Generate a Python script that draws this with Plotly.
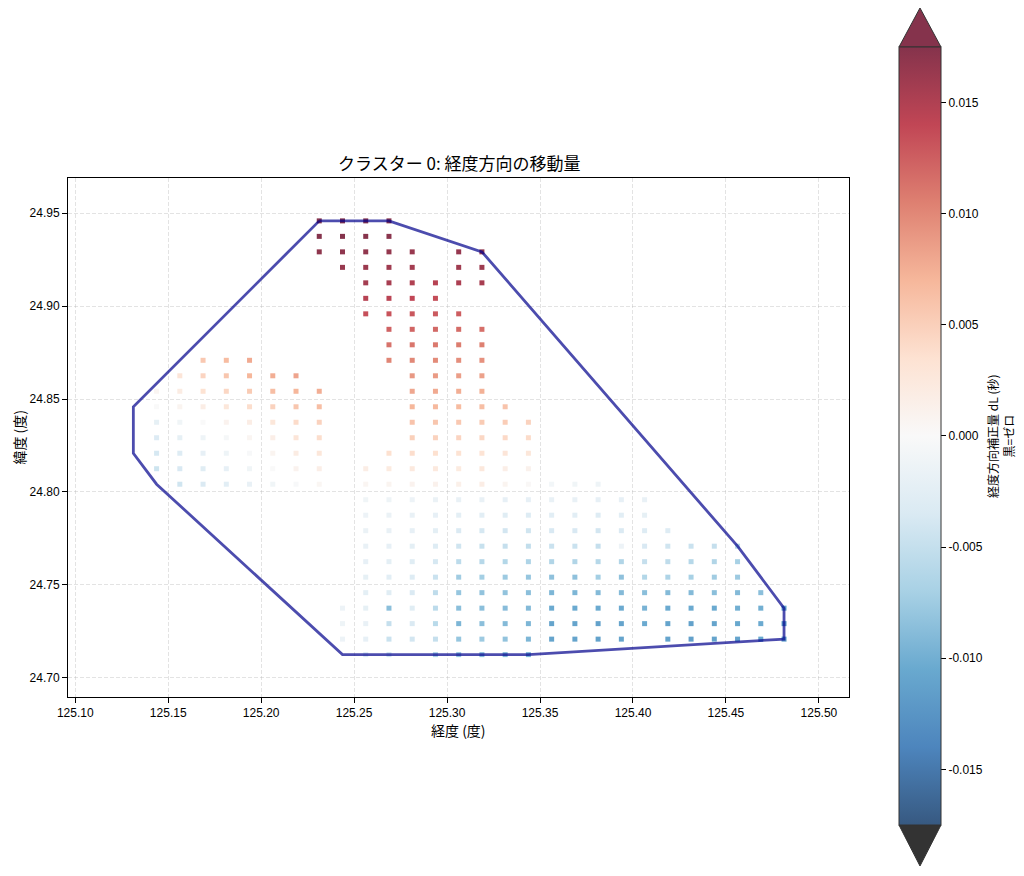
import plotly.graph_objects as go

# --- 3次メッシュ中心 (緯度 30", 経度 45") ---
lats = [24.94583, 24.93750, 24.92917, 24.92083, 24.91250, 24.90417, 24.89583,
        24.88750, 24.87917, 24.87083, 24.86250, 24.85417, 24.84583, 24.83750,
        24.82917, 24.82083, 24.81250, 24.80417, 24.79583, 24.78750, 24.77917,
        24.77083, 24.76250, 24.75417, 24.74583, 24.73750, 24.72917, 24.72083,
        24.71250]
lons = [125.13125, 125.14375, 125.15625, 125.16875, 125.18125, 125.19375,
        125.20625, 125.21875, 125.23125, 125.24375, 125.25625, 125.26875,
        125.28125, 125.29375, 125.30625, 125.31875, 125.33125, 125.34375,
        125.35625, 125.36875, 125.38125, 125.39375, 125.40625, 125.41875,
        125.43125, 125.44375, 125.45625, 125.46875, 125.48125]

# 経度方向補正量 dL: (行, 開始列, 値...)
dl_rows = [
    (0, 8, [0.0190, 0.0190, 0.0188, 0.0186]),
    (1, 8, [0.0176, 0.0175, 0.0174, 0.0172]),
    (2, 8, [0.0170, 0.0169, 0.0168, 0.0166, 0.0164]),
    (2, 14, [0.0165, 0.0168]),
    (3, 9, [0.0164, 0.0162, 0.0160, 0.0157]),
    (3, 14, [0.0159, 0.0161]),
    (4, 10, [0.0157, 0.0155, 0.0150, 0.0146, 0.0152, 0.0155]),
    (5, 10, [0.0146, 0.0144, 0.0140, 0.0136]),
    (6, 10, [0.0134, 0.0132, 0.0130, 0.0128, 0.0126]),
    (7, 11, [0.0123, 0.0121, 0.0119, 0.0117, 0.0115]),
    (8, 11, [0.0113, 0.0111, 0.0109, 0.0107, 0.0105]),
    (9, 3, [0.0056, 0.0066, 0.0078]),
    (9, 11, [0.0102, 0.0100, 0.0098, 0.0096, 0.0094]),
    (10, 2, [0.0030, 0.0046, 0.0058, 0.0070, 0.0076, 0.0082]),
    (10, 12, [0.0090, 0.0088, 0.0086, 0.0084]),
    (11, 1, [0.0006, 0.0020, 0.0034, 0.0044, 0.0054, 0.0064, 0.0070, 0.0076]),
    (11, 12, [0.0080, 0.0078, 0.0076, 0.0074]),
    (12, 1, [0.0000, 0.0008, 0.0018, 0.0028, 0.0038, 0.0048, 0.0058, 0.0064]),
    (12, 12, [0.0070, 0.0068, 0.0066, 0.0064, 0.0060]),
    (13, 1, [-0.0022, -0.0010, 0.0000, 0.0010, 0.0018, 0.0028, 0.0040, 0.0048]),
    (13, 12, [0.0060, 0.0058, 0.0056, 0.0054, 0.0052, 0.0048]),
    (14, 1, [-0.0032, -0.0022, -0.0012, -0.0004, 0.0006, 0.0016, 0.0030, 0.0038]),
    (14, 12, [0.0050, 0.0048, 0.0046, 0.0044, 0.0042, 0.0040]),
    (15, 1, [-0.0038, -0.0030, -0.0020, -0.0012, -0.0002, 0.0008, 0.0020, 0.0028]),
    (15, 11, [0.0036, 0.0038, 0.0036, 0.0034, 0.0032, 0.0030, 0.0028]),
    (16, 1, [-0.0044, -0.0036, -0.0028, -0.0020, -0.0010, 0.0000, 0.0010, 0.0016]),
    (16, 10, [0.0018, 0.0022, 0.0024, 0.0024, 0.0022, 0.0026, 0.0016, 0.0012]),
    (17, 2, [-0.0042, -0.0034, -0.0026, -0.0018, -0.0010, -0.0002, 0.0005]),
    (17, 10, [0.0006, 0.0008, 0.0010, 0.0012, 0.0014, 0.0018, 0.0008, 0.0003,
              -0.0008, -0.0010, -0.0012]),
    (18, 10, [-0.0010, -0.0012, -0.0014, -0.0016, -0.0018, -0.0018, -0.0020,
              -0.0020, -0.0018, -0.0018, -0.0020, -0.0020, -0.0018]),
    (19, 10, [-0.0014, -0.0016, -0.0018, -0.0020, -0.0024, -0.0026, -0.0028,
              -0.0030, -0.0026, -0.0026, -0.0030, -0.0026, -0.0022]),
    (20, 10, [-0.0016, -0.0018, -0.0020, -0.0024, -0.0034, -0.0038, -0.0040,
              -0.0042, -0.0036, -0.0036, -0.0040, -0.0034, -0.0030, -0.0030]),
    (21, 10, [-0.0018, -0.0020, -0.0024, -0.0030, -0.0042, -0.0048, -0.0050,
              -0.0052, -0.0046, -0.0046, -0.0050, -0.0014, -0.0036, -0.0042,
              -0.0046, -0.0050, -0.0060]),
    (22, 10, [-0.0020, -0.0024, -0.0028, -0.0038, -0.0056, -0.0060, -0.0062,
              -0.0066, -0.0064, -0.0064, -0.0060, -0.0064, -0.0050, -0.0054,
              -0.0060, -0.0064, -0.0070]),
    (23, 10, [-0.0022, -0.0026, -0.0030, -0.0046, -0.0074, -0.0072, -0.0076,
              -0.0080, -0.0084, -0.0084, -0.0072, -0.0084, -0.0062, -0.0066,
              -0.0070, -0.0074, -0.0076]),
    (24, 10, [-0.0024, -0.0028, -0.0034, -0.0054, -0.0080, -0.0082, -0.0082,
              -0.0086, -0.0094, -0.0094, -0.0090, -0.0090, -0.0086, -0.0090,
              -0.0090, -0.0086, -0.0090, -0.0086]),
    (25, 9, [-0.0014, -0.0022, -0.0086, -0.0028, -0.0056, -0.0086, -0.0086,
             -0.0088, -0.0090, -0.0104, -0.0104, -0.0104, -0.0104, -0.0096,
             -0.0104, -0.0104, -0.0104, -0.0100, -0.0100, -0.0110]),
    (26, 9, [-0.0012, -0.0018, -0.0050, -0.0034, -0.0058, -0.0094, -0.0086,
             -0.0090, -0.0094, -0.0110, -0.0110, -0.0112, -0.0110, -0.0104,
             -0.0110, -0.0112, -0.0110, -0.0106, -0.0104, -0.0116]),
    (27, 9, [-0.0014, -0.0020, -0.0046, -0.0040, -0.0050, -0.0080, -0.0076,
             -0.0082, -0.0094, -0.0110, -0.0110, -0.0112, -0.0110]),
    (27, 23, [-0.0110, -0.0114, -0.0110, -0.0110, -0.0106, -0.0116]),
    (28, 10, [-0.0030, -0.0040]),
    (28, 13, [-0.0066, -0.0080, -0.0086, -0.0090, -0.0094]),
]

# 凸包の頂点 (列, 行)
hull_cols = [8, 11, 15, 26, 28, 28, 17, 9, 1, 0, 0, 8]
hull_rows = [0, 0, 2, 21, 25, 27, 28, 28, 17, 15, 12, 0]

cbar_ticks = [-0.015, -0.010, -0.005, 0.0, 0.005, 0.010, 0.015]
VMAX = 0.0175

# --- 点の展開 ---
pt_x, pt_y, pt_v = [], [], []
for r, c0, vals in dl_rows:
    for k, v in enumerate(vals):
        pt_x.append(lons[c0 + k])
        pt_y.append(lats[r])
        pt_v.append(v)

# RdBu_r (alpha 0.8 を白に合成)
rdbu_r = ["#053061", "#2166ac", "#4393c3", "#92c5de", "#d1e5f0", "#f7f7f7",
          "#fddbc7", "#f4a582", "#d6604d", "#b2182b", "#67001f"]


def blend(h, a=0.8):
    r, g, b = (int(h[i:i + 2], 16) for i in (1, 3, 5))
    return "rgb(%d,%d,%d)" % tuple(round(a * c + (1 - a) * 255) for c in (r, g, b))


cscale = [[i / 10, blend(h)] for i, h in enumerate(rdbu_r)]

JP = "Noto Sans CJK JP"
LAT = "Liberation Sans, Arial, " + JP

fig = go.Figure()
fig.add_trace(go.Scatter(
    x=pt_x, y=pt_y, mode="markers",
    marker=dict(symbol="square", size=5, color=pt_v, colorscale=cscale,
                cmin=-VMAX, cmax=VMAX, line=dict(width=0),
                colorbar=dict(x=1.064, xanchor="left", xpad=0,
                              y=0.503, yanchor="middle", ypad=0,
                              len=778, lenmode="pixels",
                              thickness=42, thicknessmode="pixels",
                              outlinewidth=1, outlinecolor="#333333",
                              tickvals=cbar_ticks,
                              ticktext=["%.3f" % t for t in cbar_ticks],
                              ticks="outside", ticklen=5, tickcolor="black",
                              tickfont=dict(family=LAT, size=12, color="black"))),
    showlegend=False, hoverinfo="skip",
))
fig.add_trace(go.Scatter(
    x=[lons[c] for c in hull_cols], y=[lats[r] for r in hull_rows],
    mode="lines", line=dict(color="rgba(0,0,139,0.7)", width=2.8),
    showlegend=False, hoverinfo="skip",
))

axis_common = dict(showline=True, linecolor="black", linewidth=1, mirror=True,
                   ticks="outside", ticklen=5, tickwidth=1, tickcolor="black",
                   showgrid=True, gridcolor="rgba(176,176,176,0.35)",
                   gridwidth=0.8, griddash="4px,2px", zeroline=False,
                   tickformat=".2f", tickfont=dict(family=LAT, size=12, color="black"))

fig.update_xaxes(range=[125.0961, 125.5162], tick0=125.10, dtick=0.05, **axis_common)
fig.update_yaxes(range=[24.6897, 24.9689], tick0=24.70, dtick=0.05, **axis_common)

# カラーバーの延長三角
fig.add_shape(type="path", xref="paper", yref="paper",
              path="M 1.064,1.2524 L 1.0909,1.3276 L 1.1178,1.2524 Z",
              fillcolor=blend("#67001f"), line=dict(color="#333333", width=1))
fig.add_shape(type="path", xref="paper", yref="paper",
              path="M 1.064,-0.2466 L 1.0909,-0.3256 L 1.1178,-0.2466 Z",
              fillcolor="rgb(51,51,51)", line=dict(color="#333333", width=1))

fig.add_annotation(text="クラスター 0: 経度方向の移動量", xref="paper", yref="paper",
                   x=0.5, y=1.029, showarrow=False, xanchor="center", yanchor="middle",
                   font=dict(family=JP, size=17, color="black"))
fig.add_annotation(text="経度 (度)", xref="paper", yref="paper", x=0.5, y=-0.0636,
                   showarrow=False, xanchor="center", yanchor="middle",
                   font=dict(family=JP, size=14, color="black"))
fig.add_annotation(text="緯度 (度)", xref="paper", yref="paper", x=-0.064, y=0.5,
                   showarrow=False, textangle=-90, xanchor="center", yanchor="middle",
                   font=dict(family=JP, size=14, color="black"))
fig.add_annotation(text="経度方向補正量 dL (秒)<br>黒=ゼロ", xref="paper", yref="paper",
                   x=1.1946, y=0.503, showarrow=False, textangle=-90,
                   xanchor="center", yanchor="middle",
                   font=dict(family=JP, size=12, color="black"))

# ページ本体の 8px 余白を見込んだ大きさ
fig.update_layout(width=1016, height=868,
                  margin=dict(l=60, r=175, t=170, b=179),
                  paper_bgcolor="white", plot_bgcolor="white")

fig.write_html("out.html")
